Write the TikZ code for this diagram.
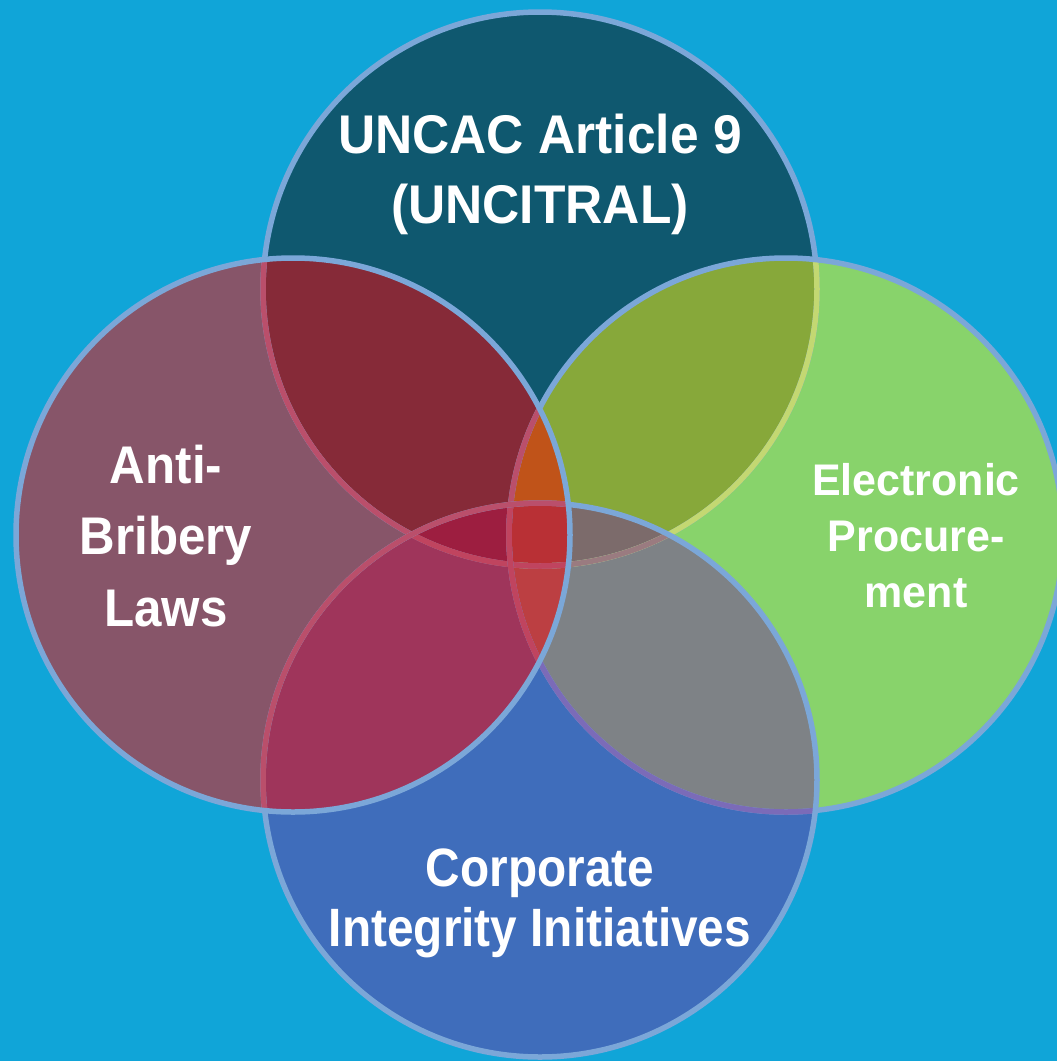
\documentclass[tikz,border=0pt]{standalone}
\usepackage{fontspec}
\newfontfamily\fTop[FakeStretch=0.945]{Liberation Sans}
\newfontfamily\fLeft[FakeStretch=0.93]{Liberation Sans}
\newfontfamily\fRight[FakeStretch=0.97]{Liberation Sans}
\newfontfamily\fBot[FakeStretch=0.885]{Liberation Sans}
\definecolor{bgc}{HTML}{10A5D8}
\definecolor{cT}{HTML}{0F586F}
\definecolor{cL}{HTML}{875569}
\definecolor{cR}{HTML}{88D36B}
\definecolor{cB}{HTML}{3F6DBB}
\definecolor{cTL}{HTML}{862A38}
\definecolor{cTR}{HTML}{87A83A}
\definecolor{cBL}{HTML}{9F355B}
\definecolor{cBR}{HTML}{7E8286}
\definecolor{cTLR}{HTML}{C05319}
\definecolor{cTLB}{HTML}{9D1E40}
\definecolor{cTRB}{HTML}{7C6B6B}
\definecolor{cLRB}{HTML}{BC3F42}
\definecolor{cAll}{HTML}{B93035}
\definecolor{edge}{HTML}{7BA7D8}
\definecolor{edgeL}{HTML}{BA4F6B}
\definecolor{edgeLB}{HTML}{C0445F}
\definecolor{edgeR}{HTML}{C3D872}
\definecolor{edgeRB}{HTML}{9A7B80}
\definecolor{edgeB}{HTML}{7B6BB8}
\tikzset{
  ring/.style={line width=5.5pt},
  lbl/.style={text=white, align=center, inner sep=0pt, anchor=base}
}
\newcommand{\circT}{(540,289) circle[radius=277pt]}
\newcommand{\circL}{(293,535) circle[radius=277pt]}
\newcommand{\circR}{(786,535) circle[radius=277pt]}
\newcommand{\circB}{(540,780) circle[radius=277pt]}
\begin{document}
\begin{tikzpicture}[x=1pt,y=-1pt]
\useasboundingbox (0,0) rectangle (1057,1061);
\clip (0,0) rectangle (1057,1061);
\fill[bgc] (0,0) rectangle (1057,1061);
% single circles
\fill[cT] \circT;
\fill[cR] \circR;
\fill[cB] \circB;
\fill[cL] \circL;
% pairs
\begin{scope}\clip \circT; \fill[cTL] \circL; \end{scope}
\begin{scope}\clip \circT; \fill[cTR] \circR; \end{scope}
\begin{scope}\clip \circB; \fill[cBL] \circL; \end{scope}
\begin{scope}\clip \circB; \fill[cBR] \circR; \end{scope}
% triples
\begin{scope}\clip \circT; \clip \circL; \fill[cTLR] \circR; \end{scope}
\begin{scope}\clip \circT; \clip \circL; \fill[cTLB] \circB; \end{scope}
\begin{scope}\clip \circT; \clip \circR; \fill[cTRB] \circB; \end{scope}
\begin{scope}\clip \circL; \clip \circR; \fill[cLRB] \circB; \end{scope}
% all four
\begin{scope}\clip \circT; \clip \circL; \clip \circR; \fill[cAll] \circB; \end{scope}
% outlines of the top circle
\draw[ring, edge] \circT;
\begin{scope}\clip \circR; \draw[ring, edgeR] \circT; \end{scope}
\begin{scope}\clip \circR; \clip \circB; \draw[ring, edgeRB] \circT; \end{scope}
\begin{scope}\clip \circL; \draw[ring, edgeL] \circT; \end{scope}
\begin{scope}\clip \circL; \clip \circB; \draw[ring, edgeLB] \circT; \end{scope}
% outlines of the right circle
\draw[ring, edge] \circR;
\begin{scope}\clip \circB; \draw[ring, edgeB] \circR; \end{scope}
\begin{scope}\clip \circL; \draw[ring, edgeL] \circR; \end{scope}
\begin{scope}\clip \circL; \clip \circB; \draw[ring, edgeLB] \circR; \end{scope}
% outlines of the bottom circle
\draw[ring, edge] \circB;
\begin{scope}\clip \circL; \draw[ring, edgeL] \circB; \end{scope}
% outline of the left circle
\draw[ring, edge] \circL;
% labels (base anchor = baseline of the last line)
\node[lbl, font={\fTop\bfseries\fontsize{54.5}{70}\selectfont}] (top) at (540,223)
  {UNCAC Article 9\\(UNCITRAL)};
\node[lbl, font={\fLeft\bfseries\fontsize{53}{71.5}\selectfont}] (left) at (166,626)
  {Anti-\\Bribery\\Laws};
\node[lbl, font={\fRight\bfseries\fontsize{44.3}{56}\selectfont}] (right) at (916,607)
  {Electronic\\Procure-\\ment};
\node[lbl, font={\fBot\bfseries\fontsize{54}{60}\selectfont}] (bottom) at (540,946)
  {Corporate\\Integrity Initiatives};
\end{tikzpicture}
\end{document}
